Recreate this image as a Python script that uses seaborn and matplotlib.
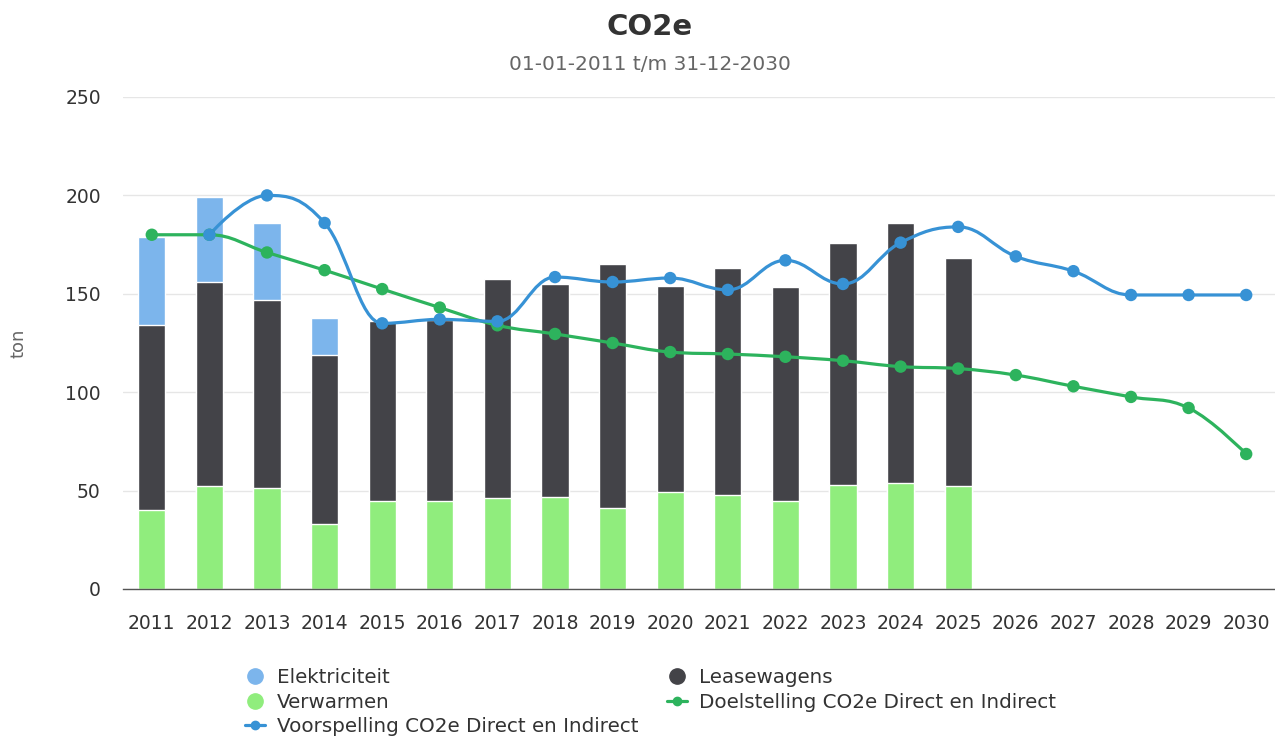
import numpy as np
import pandas as pd
import matplotlib
matplotlib.use("Agg")
import matplotlib.pyplot as plt
from matplotlib.path import Path
from matplotlib.patches import PathPatch
from matplotlib.lines import Line2D
import seaborn as sns

# --- data (ton CO2e) ---
years = [str(y) for y in range(2011, 2031)]
nan = np.nan
verwarmen = [40, 52.5, 51.5, 33, 44.5, 44.5, 46, 47, 41, 49.5, 48, 44.5, 53, 54, 52.5,
             nan, nan, nan, nan, nan]
leasewagens = [94, 103.5, 95.3, 86, 91.5, 92, 111.5, 108, 124, 104.5, 115, 109, 123, 132, 115.5,
               nan, nan, nan, nan, nan]
elektriciteit = [45, 43, 39.2, 18.7, 0, 0, 0, 0, 0, 0, 0, 0, 0, 0, 0,
                 nan, nan, nan, nan, nan]
voorspelling = [nan, 180, 200, 186, 135, 137, 136, 158.5, 156, 158, 152, 167, 155, 176, 184,
                169, 161.5, 149.4, 149.4, 149.4]
doelstelling = [180, 180, 171, 162, 152.4, 143, 134, 129.6, 125, 120.4, 119.4, 118, 116, 113, 112,
                108.7, 103, 97.6, 92, 68.6]

C_ELEK = "#7cb5ec"
C_LEASE = "#434348"
C_VERW = "#90ed7d"
C_DOEL = "#2db35d"
C_VOOR = "#3792d5"

df = pd.DataFrame({"year": years, "verwarmen": verwarmen,
                   "leasewagens": leasewagens, "elektriciteit": elektriciteit})
df["lvl2"] = df["verwarmen"] + df["leasewagens"]
df["lvl3"] = df["lvl2"] + df["elektriciteit"]


def spline_path(xs, ys, smoothing=1.5):
    # Highcharts-style spline through the points, as cubic bezier segments
    n = len(xs)
    d = smoothing + 1
    left = [None] * n
    right = [None] * n
    for i in range(n):
        x, y = xs[i], ys[i]
        if i == 0 or i == n - 1:
            left[i] = (x, y)
            right[i] = (x, y)
            continue
        lx, ly = xs[i - 1], ys[i - 1]
        nx, ny = xs[i + 1], ys[i + 1]
        lcx, lcy = (smoothing * x + lx) / d, (smoothing * y + ly) / d
        rcx, rcy = (smoothing * x + nx) / d, (smoothing * y + ny) / d
        if rcx != lcx:
            corr = ((rcy - lcy) * (rcx - x)) / (rcx - lcx) + y - rcy
            lcy += corr
            rcy += corr
        if lcy > ly and lcy > y:
            lcy = max(ly, y)
            rcy = 2 * y - lcy
        elif lcy < ly and lcy < y:
            lcy = min(ly, y)
            rcy = 2 * y - lcy
        if rcy > ny and rcy > y:
            rcy = max(ny, y)
            lcy = 2 * y - rcy
        elif rcy < ny and rcy < y:
            rcy = min(ny, y)
            lcy = 2 * y - rcy
        left[i] = (lcx, lcy)
        right[i] = (rcx, rcy)
    verts = [(xs[0], ys[0])]
    codes = [Path.MOVETO]
    for i in range(1, n):
        verts += [right[i - 1], left[i], (xs[i], ys[i])]
        codes += [Path.CURVE4] * 3
    return Path(verts, codes)


sns.set_style("white")
plt.rcParams["font.family"] = ["DejaVu Sans"]

fig = plt.figure(figsize=(12.75, 7.38), dpi=100)
ax = fig.add_axes([123 / 1275, 1 - 589 / 738, 1 - 123 / 1275, (589 - 97) / 738])

bar_kw = dict(order=years, width=0.47, edgecolor="white", linewidth=1, ax=ax, zorder=2)
sns.barplot(data=df, x="year", y="lvl3", color=C_ELEK, saturation=1, **bar_kw)
sns.barplot(data=df, x="year", y="lvl2", color=C_LEASE, saturation=1, **bar_kw)
sns.barplot(data=df, x="year", y="verwarmen", color=C_VERW, saturation=1, **bar_kw)

# spline lines
for vals, col in [(doelstelling, C_DOEL), (voorspelling, C_VOOR)]:
    xs = [i for i, v in enumerate(vals) if not np.isnan(v)]
    ys = [v for v in vals if not np.isnan(v)]
    ax.add_patch(PathPatch(spline_path(xs, ys), facecolor="none", edgecolor=col,
                           lw=2.3, zorder=4, capstyle="round", joinstyle="round"))
    sns.scatterplot(x=xs, y=ys, color=col, s=80, edgecolor="none", ax=ax, zorder=5)

ax.set_xlim(-0.5, 19.5)
ax.set_ylim(0, 250)
ax.set_yticks(range(0, 251, 50))
ax.yaxis.grid(True, color="#e6e6e6", lw=1)
ax.set_axisbelow(True)
ax.set_xlabel("")
ax.set_ylabel("")
for s in ["left", "right", "top"]:
    ax.spines[s].set_visible(False)
ax.spines["bottom"].set_color("#555555")
ax.spines["bottom"].set_linewidth(1)
ax.spines["bottom"].set_zorder(6)
ax.tick_params(axis="y", length=0, pad=16, labelsize=13.5, labelcolor="#333333")
ax.tick_params(axis="x", length=0, pad=18, labelsize=13.5, labelcolor="#333333")

fig.text(650 / 1275, 1 - 27 / 738, "CO2e", ha="center", va="center",
         fontsize=21, fontweight="bold", color="#333333")
fig.text(650 / 1275, 1 - 65 / 738, "01-01-2011 t/m 31-12-2030", ha="center", va="center",
         fontsize=14.5, color="#666666")
fig.text(18 / 1275, 1 - 343 / 738, "ton", rotation=90, ha="center", va="center",
         fontsize=13, color="#666666")

handles = [
    Line2D([], [], ls="none", marker="o", ms=11, color=C_ELEK),
    Line2D([], [], ls="none", marker="o", ms=11, color=C_VERW),
    Line2D([], [], color=C_VOOR, lw=2.3, marker="o", ms=6),
    Line2D([], [], ls="none", marker="o", ms=11, color=C_LEASE),
    Line2D([], [], color=C_DOEL, lw=2.3, marker="o", ms=6),
]
labels = ["Elektriciteit", "Verwarmen", "Voorspelling CO2e Direct en Indirect",
          "Leasewagens", "Doelstelling CO2e Direct en Indirect"]
leg = fig.legend(handles, labels, ncol=2, loc="upper left",
                 bbox_to_anchor=(245 / 1275, 1 - 668 / 738), frameon=False,
                 fontsize=14.3, handlelength=1.0, handletextpad=0.6,
                 columnspacing=1.45, labelspacing=0.28, borderpad=0, borderaxespad=0)
for t in leg.get_texts():
    t.set_color("#333333")

fig.savefig("out.png", dpi=100)
